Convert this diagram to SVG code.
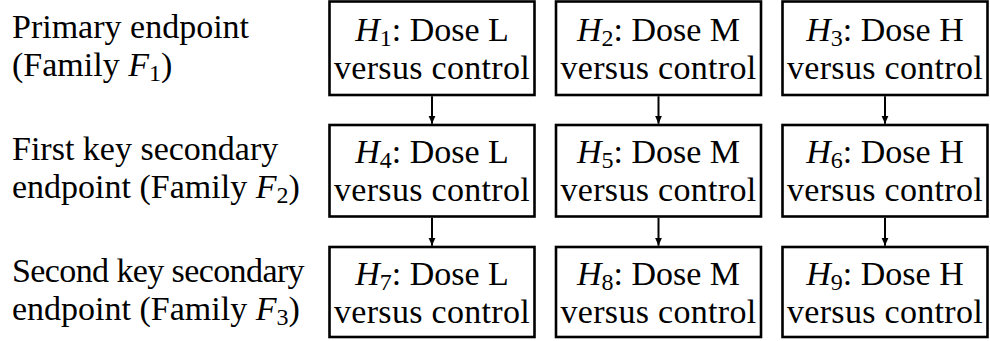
<svg xmlns="http://www.w3.org/2000/svg" width="990" height="341" viewBox="0 0 990 341">
<style>
text{font-family:"Liberation Serif","Times New Roman",serif;font-size:34px;fill:#000}
.c{text-anchor:middle}
.it{font-style:italic}
.sub{font-size:24px}
.vc{letter-spacing:0.3px}
.tight{letter-spacing:-0.6px}
.box{fill:#fff;stroke:#000;stroke-width:2.6}
.edge{stroke:#000;stroke-width:2;fill:none;marker-end:url(#ah)}
</style>
<defs>
<marker id="ah" viewBox="0 0 8 8" refX="8" refY="4" markerWidth="8" markerHeight="8" markerUnits="userSpaceOnUse" orient="auto">
<path d="M0,0.5 L8,4 L0,7.5 Z" fill="#000"/>
</marker>
</defs>
<g id="labels">
<text x="12" y="38">Primary endpoint</text>
<text x="12" y="76">(Family <tspan class="it">F</tspan><tspan class="sub" dy="5">1</tspan><tspan dy="-5">)</tspan></text>
<text x="12" y="160">First key secondary</text>
<text x="12" y="198">endpoint (Family <tspan class="it">F</tspan><tspan class="sub" dy="5">2</tspan><tspan dy="-5">)</tspan></text>
<text x="12" y="282" class="tight">Second key secondary</text>
<text x="12" y="320">endpoint (Family <tspan class="it">F</tspan><tspan class="sub" dy="5">3</tspan><tspan dy="-5">)</tspan></text>
</g>
<g id="H1"><rect class="box" x="329.5" y="1.5" width="205" height="93.5"/>
<text class="c" x="432" y="41"><tspan class="it">H</tspan><tspan class="sub" dy="5">1</tspan><tspan dy="-5">: Dose L</tspan></text>
<text class="c vc" x="432" y="79">versus control</text></g>
<g id="H2"><rect class="box" x="556" y="1.5" width="205" height="93.5"/>
<text class="c" x="658.5" y="41"><tspan class="it">H</tspan><tspan class="sub" dy="5">2</tspan><tspan dy="-5">: Dose M</tspan></text>
<text class="c vc" x="658.5" y="79">versus control</text></g>
<g id="H3"><rect class="box" x="782.5" y="1.5" width="205" height="93.5"/>
<text class="c" x="885" y="41"><tspan class="it">H</tspan><tspan class="sub" dy="5">3</tspan><tspan dy="-5">: Dose H</tspan></text>
<text class="c vc" x="885" y="79">versus control</text></g>
<g id="H4"><rect class="box" x="329.5" y="125" width="205" height="91.5"/>
<text class="c" x="432" y="163"><tspan class="it">H</tspan><tspan class="sub" dy="5">4</tspan><tspan dy="-5">: Dose L</tspan></text>
<text class="c vc" x="432" y="201">versus control</text></g>
<g id="H5"><rect class="box" x="556" y="125" width="205" height="91.5"/>
<text class="c" x="658.5" y="163"><tspan class="it">H</tspan><tspan class="sub" dy="5">5</tspan><tspan dy="-5">: Dose M</tspan></text>
<text class="c vc" x="658.5" y="201">versus control</text></g>
<g id="H6"><rect class="box" x="782.5" y="125" width="205" height="91.5"/>
<text class="c" x="885" y="163"><tspan class="it">H</tspan><tspan class="sub" dy="5">6</tspan><tspan dy="-5">: Dose H</tspan></text>
<text class="c vc" x="885" y="201">versus control</text></g>
<g id="H7"><rect class="box" x="329.5" y="247" width="205" height="90"/>
<text class="c" x="432" y="285"><tspan class="it">H</tspan><tspan class="sub" dy="5">7</tspan><tspan dy="-5">: Dose L</tspan></text>
<text class="c vc" x="432" y="323">versus control</text></g>
<g id="H8"><rect class="box" x="556" y="247" width="205" height="90"/>
<text class="c" x="658.5" y="285"><tspan class="it">H</tspan><tspan class="sub" dy="5">8</tspan><tspan dy="-5">: Dose M</tspan></text>
<text class="c vc" x="658.5" y="323">versus control</text></g>
<g id="H9"><rect class="box" x="782.5" y="247" width="205" height="90"/>
<text class="c" x="885" y="285"><tspan class="it">H</tspan><tspan class="sub" dy="5">9</tspan><tspan dy="-5">: Dose H</tspan></text>
<text class="c vc" x="885" y="323">versus control</text></g>
<g id="connectors">
<line class="edge" x1="432" y1="96.3" x2="432" y2="123.7"/>
<line class="edge" x1="658.5" y1="96.3" x2="658.5" y2="123.7"/>
<line class="edge" x1="885" y1="96.3" x2="885" y2="123.7"/>
<line class="edge" x1="432" y1="217.8" x2="432" y2="245.7"/>
<line class="edge" x1="658.5" y1="217.8" x2="658.5" y2="245.7"/>
<line class="edge" x1="885" y1="217.8" x2="885" y2="245.7"/>
</g>
</svg>
